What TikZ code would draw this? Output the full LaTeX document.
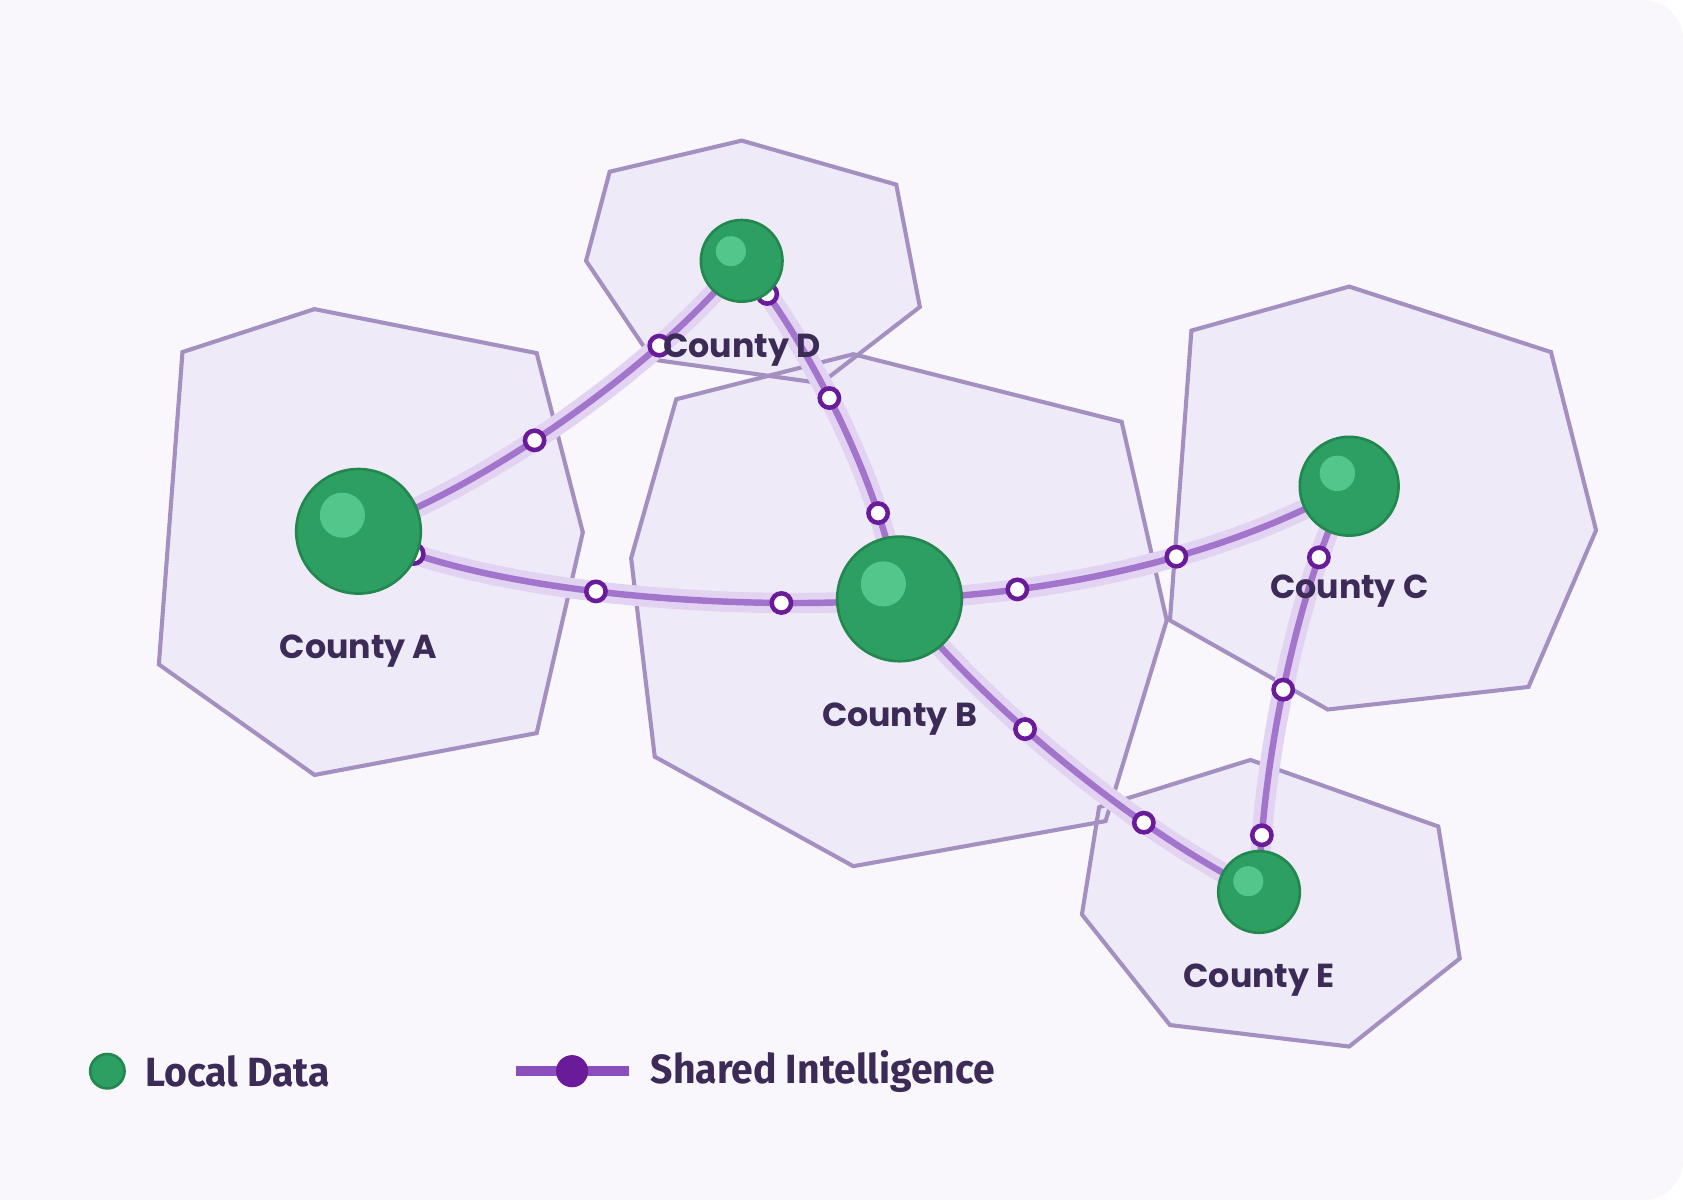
\documentclass[tikz,border=0pt]{standalone}
\usepackage{fontspec}
\newfontfamily\labelfont{Poppins}
\newfontfamily\legendfont{Fira Sans}[FakeStretch=0.96]
\usetikzlibrary{calc}
\definecolor{bgc}{HTML}{F9F7FC}
\definecolor{regfill}{HTML}{EDE7F6}
\definecolor{regline}{HTML}{A38FC0}
\definecolor{halo}{HTML}{E2D3F2}
\definecolor{core}{HTML}{A274CB}
\definecolor{mk}{HTML}{6A1B9A}
\definecolor{legline}{HTML}{8C4EBD}
\definecolor{nodefill}{HTML}{2E9F63}
\definecolor{nodeline}{HTML}{23884F}
\definecolor{hilite}{HTML}{52C68B}
\definecolor{txt}{HTML}{3C2B57}
\pgfdeclarelayer{back}
\pgfdeclarelayer{links}
\pgfsetlayers{back,links,main}
\def\polyA{(293,288) -- (500,329) -- (543,496) -- (500,683) -- (293,722) -- (148,619) -- (170,328) -- cycle}
\def\polyB{(630,372) -- (795,330) -- (1045,393) -- (1087,578) -- (1030,765) -- (795,807) -- (610,705) -- (588,520) -- cycle}
\def\polyC{(1257,267) -- (1445,328) -- (1487,494) -- (1424,640) -- (1237,661) -- (1090,578) -- (1110,308) -- cycle}
\def\polyD{(691,131) -- (835,172) -- (857,286) -- (765,357) -- (608,335) -- (546,243) -- (568,160) -- cycle}
\def\polyE{(1165,708) -- (1340,770) -- (1360,893) -- (1257,975) -- (1090,955) -- (1008,852) -- (1024,752) -- cycle}
\begin{document}
\begin{tikzpicture}[x=1pt,y=-1pt,
  regionfill/.style={fill=regfill,fill opacity=0.8},
  regionline/.style={draw=regline,line width=3.8pt,line join=miter},
  county/.style={circle,fill=nodefill,draw=nodeline,line width=2.5pt,inner sep=0pt,minimum size=#1},
  link/.style={draw=core,line width=6pt,line cap=round,preaction={draw=halo,line width=19pt,line cap=round}},
  relay/.style={circle,fill=white,draw=mk,line width=4.2pt,minimum size=18pt,inner sep=0pt},
  lbl/.style={text=txt,font=\labelfont\bfseries\fontsize{31}{32}\selectfont,inner sep=0pt},
  legtxt/.style={text=txt,font=\legendfont\bfseries\fontsize{38}{40}\selectfont,inner sep=0pt,anchor=west}]
\useasboundingbox (0,0) rectangle (1568,1118);
\begin{pgfonlayer}{back}
\fill[white] (0,0) rectangle (1568,1118);
\fill[bgc] (0,0) -- (1500,0) [rounded corners=37pt] -- (1568,0) -- (1568,1118) -- (1500,1118) [sharp corners] -- (0,1118) -- cycle;
\path[regionfill] \polyA;
\path[regionfill] \polyB;
\path[regionfill] \polyC;
\path[regionfill] \polyD;
\path[regionfill] \polyE;
\path[regionline] \polyA;
\path[regionline] \polyB;
\path[regionline] \polyC;
\path[regionline] \polyD;
\path[regionline] \polyE;
\end{pgfonlayer}

% counties
\node[county=116pt] (A) at (334,495) {};
\node[county=116pt] (B) at (838,558) {};
\node[county=92pt]  (C) at (1257,453) {};
\node[county=76pt]  (D) at (691,243) {};
\node[county=76pt]  (E) at (1173,831) {};
\fill[hilite] ($(A.center)+(-15,-15)$) circle (21pt);
\fill[hilite] ($(B.center)+(-15,-14)$) circle (21pt);
\fill[hilite] ($(C.center)+(-11,-12)$) circle (16.5pt);
\fill[hilite] ($(D.center)+(-10,-9)$) circle (14pt);
\fill[hilite] ($(E.center)+(-10,-10)$) circle (14pt);

\begin{pgfonlayer}{links}
\path[link] (A.center) .. controls (440,460) and (610,345) .. (D.center)
  coordinate[pos=0.44] (m1) coordinate[pos=0.745] (m2);
\path[link] (A.center) .. controls (450,555) and (700,570) .. (B.center)
  coordinate[pos=0.13] (m3) coordinate[pos=0.46] (m4) coordinate[pos=0.77] (m5);
\path[link] (D.center) .. controls (740,300) and (820,440) .. (B.center)
  coordinate[pos=0.15] (m6) coordinate[pos=0.48] (m7) coordinate[pos=0.78] (m8);
\path[link] (B.center) .. controls (950,555) and (1120,530) .. (C.center)
  coordinate[pos=0.29] (m9) coordinate[pos=0.63] (m10);
\path[link] (C.center) .. controls (1215,530) and (1175,700) .. (E.center)
  coordinate[pos=0.23] (m11) coordinate[pos=0.55] (m12) coordinate[pos=0.87] (m13);
\path[link] (B.center) .. controls (910,650) and (1050,770) .. (E.center)
  coordinate[pos=0.41] (m14) coordinate[pos=0.715] (m15);
\foreach \m in {1,...,15} \node[relay] (r\m) at (m\m) {};
\end{pgfonlayer}

% labels
\node[lbl] (lA) at (334,607) {County A};
\node[lbl] (lB) at (838,670) {County B};
\node[lbl] (lC) at (1257,551) {County C};
\node[lbl] (lD) at (691,326) {County D};
\node[lbl] (lE) at (1173,913) {County E};

% legend
\node[county=32pt] (legDot) at (100,998) {};
\node[legtxt] (legLocal) at (135,998) {Local Data};
\coordinate (legL) at (481,998);
\coordinate (legR) at (586,998);
\draw[legline,line width=9pt] (legL) -- (legR);
\node[circle,fill=mk,minimum size=30pt,inner sep=0pt] (legShared) at (533,998) {};
\node[legtxt] (legShTxt) at (606,998) {Shared Intelligence};
\end{tikzpicture}
\end{document}
